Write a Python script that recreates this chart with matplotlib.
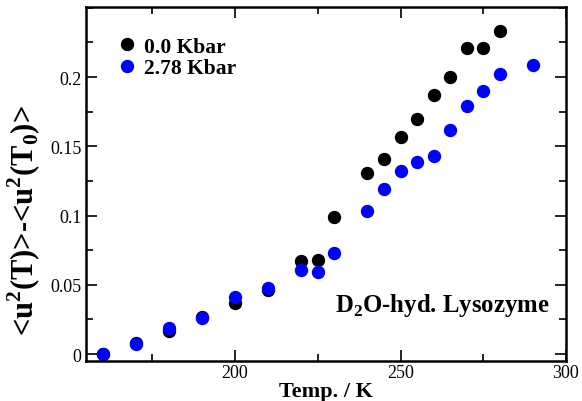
import numpy as np
import matplotlib
matplotlib.use('Agg')
import matplotlib.pyplot as plt
from matplotlib.ticker import MultipleLocator

plt.rcParams['font.family'] = 'Liberation Serif'
plt.rcParams['mathtext.fontset'] = 'custom'
plt.rcParams['mathtext.rm'] = 'Liberation Serif'
plt.rcParams['mathtext.bf'] = 'Liberation Serif:bold'

## 0.0 Kbar data
T0 = [160, 170, 180, 190, 200, 210, 220, 225, 230, 240, 245, 250, 255, 260, 265, 270, 275, 280]
u0 = [0.0, 0.008, 0.017, 0.027, 0.037, 0.046, 0.067, 0.068, 0.099, 0.131, 0.141, 0.157,
      0.170, 0.187, 0.200, 0.221, 0.221, 0.233]

## 2.78 Kbar data
T1 = [160, 170, 180, 190, 200, 210, 220, 225, 230, 240, 245, 250, 255, 260, 265, 270, 275, 280, 290]
u1 = [0.0, 0.007, 0.019, 0.026, 0.041, 0.048, 0.061, 0.059, 0.073, 0.103, 0.119, 0.132,
      0.139, 0.143, 0.162, 0.179, 0.190, 0.202, 0.209]

fig = plt.figure(figsize=(5.82, 4.02), dpi=100)
ax = fig.add_axes([0.148, 0.0995, 0.8245, 0.8805])

ax.plot(T0, u0, 'o', color='black', markersize=8.6, label='0.0 Kbar')
ax.plot(T1, u1, 'o', color='blue', markersize=8.6, label='2.78 Kbar')

ax.set_xlim(155, 300)
ax.set_ylim(-0.005, 0.2505)
ax.xaxis.set_minor_locator(MultipleLocator(25))
ax.yaxis.set_minor_locator(MultipleLocator(0.025))
ax.set_xticks([200, 250, 300])
ax.set_xticklabels(['200', '250', '300'])
ax.set_yticks([0, 0.05, 0.1, 0.15, 0.2])
ax.set_yticklabels(['0', '0.05', '0.1', '0.15', '0.2'])

ax.tick_params(which='both', direction='in', top=True, right=True, width=1.2, labelsize=13)
ax.tick_params(which='major', length=8)
ax.tick_params(which='minor', length=5)
ax.tick_params(axis='x', pad=2)
for s in ax.spines.values():
    s.set_linewidth(1.8)

ax.set_xlabel('Temp. / K', fontsize=16, fontweight='bold', labelpad=0)
ax.set_ylabel(r'<u$^\mathbf{2}$(T)>-<u$^\mathbf{2}$(T$_\mathbf{0}$)>', fontsize=22,
              fontweight='bold')
ax.yaxis.set_label_coords(-0.09, 0.40)

ax.legend(loc='upper left', bbox_to_anchor=(0.045, 0.94), frameon=False,
          prop={'weight': 'bold', 'size': 15.5}, handletextpad=0.3, labelspacing=0.05,
          handlelength=1.0, borderaxespad=0)

ax.text(0.965, 0.161, r'D$_\mathbf{2}$O-hyd. Lysozyme', transform=ax.transAxes,
        ha='right', va='center', fontsize=17.8, fontweight='bold')

plt.savefig('out.png', dpi=100)
